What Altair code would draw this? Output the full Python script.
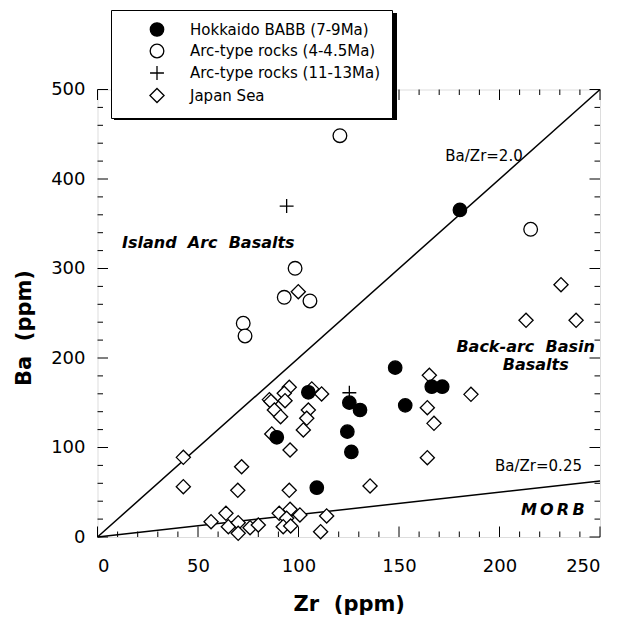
import altair as alt
import pandas as pd

# ---------------- data ----------------
series_names = ["Hokkaido BABB (7-9Ma)", "Arc-type rocks (4-4.5Ma)",
                "Arc-type rocks (11-13Ma)", "Japan Sea"]

babb_zr = [180.3, 148.1, 166.3, 171.5, 104.9, 89.2, 109.1, 125.3, 130.6, 153.1, 124.3, 126.3]
babb_ba = [365.4, 189.2, 167.9, 167.9, 161.7, 111.4, 55.1, 150.1, 141.9, 147.1, 117.7, 95.0]

arc45_zr = [120.6, 215.5, 98.3, 92.9, 105.7, 72.5, 73.4]
arc45_ba = [448.4, 343.8, 300.2, 267.8, 263.7, 238.8, 224.6]

arc1113_zr = [94.1, 125.3]
arc1113_ba = [369.8, 161.2]

japan_zr = [99.9, 230.6, 213.2, 238.1, 165.1, 185.8, 164.1, 167.4, 164.1, 135.6,
            95.4, 92.9, 85.5, 86.3, 93.3, 88.0, 91.1, 111.5, 106.6, 104.9,
            104.1, 102.4, 86.7, 95.8, 42.7, 71.7, 42.7, 69.8, 95.4, 63.9,
            56.5, 65.1, 70.0, 70.0, 75.9, 80.0, 90.4, 95.8, 94.1, 100.7,
            92.4, 96.1, 114.0, 111.0]
japan_ba = [274.1, 281.9, 242.1, 242.1, 180.7, 159.4, 144.5, 127.0, 88.6, 57.0,
            167.3, 160.6, 153.5, 151.5, 152.3, 141.9, 134.4, 159.8, 165.5, 141.9,
            132.6, 119.6, 115.1, 97.2, 89.0, 78.5, 56.2, 52.2, 52.2, 26.5,
            17.1, 11.5, 16.0, 4.1, 10.4, 13.4, 26.5, 30.9, 20.9, 24.6,
            11.5, 12.3, 23.5, 5.9]

ratio_values = [2.0, 0.25]
x_tick_values = list(range(0, 251, 10))
y_tick_values = list(range(0, 501, 20))
x_label_values = [0, 50, 100, 150, 200, 250]
y_label_values = [0, 100, 200, 300, 400, 500]

NB = "\u00a0"
ann_text = ["Ba/Zr=2.0", "Ba/Zr=0.25"]
ann_x = [192.3, 219.4]
ann_y = [426.0, 79.3]

region_text = ["Island" + NB + NB + "Arc" + NB + NB + "Basalts",
               "Back-arc" + NB + NB + "Basin", "Basalts",
               "M\u2009O\u2009R\u2009B"]
region_x = [12.2, 213.0, 218.0, 226.5]
region_y = [328.5, 212.0, 192.0, 30.0]
region_align = ["left", "center", "center", "center"]

# ---------------- tables ----------------
rows = []
for zr, ba in zip(japan_zr, japan_ba):
    rows.append({"Zr": zr, "Ba": ba, "series": series_names[3]})
for zr, ba in zip(arc45_zr, arc45_ba):
    rows.append({"Zr": zr, "Ba": ba, "series": series_names[1]})
for zr, ba in zip(babb_zr, babb_ba):
    rows.append({"Zr": zr, "Ba": ba, "series": series_names[0]})
for zr, ba in zip(arc1113_zr, arc1113_ba):
    rows.append({"Zr": zr, "Ba": ba, "series": series_names[2]})
pts = pd.DataFrame(rows)

line_rows = []
for r in ratio_values:
    for xv in (0, 250):
        line_rows.append({"Zr": xv, "Ba": r * xv, "ratio": str(r)})
lines_df = pd.DataFrame(line_rows)

W, H = 502.5, 447.5
FONT = "DejaVu Sans"

xs = alt.Scale(domain=[0, 250], nice=False, zero=False)
ys = alt.Scale(domain=[0, 500], nice=False, zero=False)

X = alt.X("Zr:Q", scale=xs,
          axis=alt.Axis(title="Zr" + NB + NB + "(ppm)", values=x_label_values, domain=False, ticks=False,
                        tickSize=0, grid=False, labelPadding=20, labelFontSize=18,
                        labelFont=FONT, labelColor="black", titleFont=FONT, titleFontSize=21,
                        titleFontWeight="bold", titlePadding=18, titleColor="black"))
Y = alt.Y("Ba:Q", scale=ys,
          axis=alt.Axis(title="Ba" + NB + NB + "(ppm)", values=y_label_values, domain=False, ticks=False,
                        tickSize=0, grid=False, labelPadding=12.5, labelFontSize=18,
                        labelFont=FONT, labelColor="black", titleFont=FONT, titleFontSize=21,
                        titleFontWeight="bold", titlePadding=16, titleColor="black",
                        titleY=238))

shape_range = ["circle", "circle", "M-1,0L1,0M0,-1L0,1", "diamond"]
fill_range = ["black", "white", "transparent", "white"]
stroke_range = ["black", "black", "black", "black"]
size_range = [180, 200, 330, 95]

leg = alt.Legend(title=None, orient="none", legendX=13.5, legendY=-79.5,
                 padding=12, symbolOffset=26, labelOffset=25, rowPadding=2.5,
                 labelFont=FONT, labelFontSize=15, labelColor="black", labelLimit=400,
                 symbolStrokeColor="black", symbolStrokeWidth=1.3,
                 fillColor="white", strokeColor="black")

points = alt.Chart(pts).mark_point(stroke="black", strokeWidth=1.3, opacity=1).encode(
    x=X, y=Y,
    shape=alt.Shape("series:N", scale=alt.Scale(domain=series_names, range=shape_range), legend=leg),
    fill=alt.Fill("series:N", scale=alt.Scale(domain=series_names, range=fill_range), legend=leg),
    stroke=alt.Stroke("series:N", scale=alt.Scale(domain=series_names, range=stroke_range), legend=leg),
    size=alt.Size("series:N", scale=alt.Scale(domain=series_names, range=size_range), legend=leg),
)

ratio_lines = alt.Chart(lines_df).mark_line(color="black", strokeWidth=1.5).encode(
    x=alt.X("Zr:Q", scale=xs), y=alt.Y("Ba:Q", scale=ys), detail="ratio:N")

ticks_x = pd.DataFrame({"v": x_tick_values})
ticks_y = pd.DataFrame({"v": y_tick_values})


def xticks(major, length, bottom=True):
    flt = "datum.v % 50 == 0" if major else "datum.v % 50 != 0"
    y0 = H if bottom else 0
    y1 = H - length if bottom else length
    return alt.Chart(ticks_x).transform_filter(flt).mark_rule(color="black", strokeWidth=1).encode(
        x=alt.X("v:Q", scale=xs), y=alt.value(y0), y2=alt.value(y1))


def yticks(major, length, left=True):
    flt = "datum.v % 100 == 0" if major else "datum.v % 100 != 0"
    x0 = 0 if left else W
    x1 = length if left else W - length
    return alt.Chart(ticks_y).transform_filter(flt).mark_rule(color="black", strokeWidth=1).encode(
        y=alt.Y("v:Q", scale=ys), x=alt.value(x0), x2=alt.value(x1))


tick_layers = [xticks(True, 10.5, True), xticks(False, 5.5, True),
               xticks(True, 10.5, False), xticks(False, 5.5, False),
               yticks(True, 10.5, True), yticks(False, 5.5, True),
               yticks(True, 10.5, False), yticks(False, 5.5, False)]

ann_df = pd.DataFrame({"t": ann_text, "Zr": ann_x, "Ba": ann_y})
ann = alt.Chart(ann_df).mark_text(font=FONT, fontSize=15, color="black").encode(
    x=alt.X("Zr:Q", scale=xs), y=alt.Y("Ba:Q", scale=ys), text="t:N")

reg_df = pd.DataFrame({"t": region_text, "Zr": region_x, "Ba": region_y, "a": region_align})
reg_left = alt.Chart(reg_df).transform_filter("datum.a == 'left'").mark_text(
    font=FONT, fontSize=16, fontWeight="bold", fontStyle="italic", color="black", align="left").encode(
    x=alt.X("Zr:Q", scale=xs), y=alt.Y("Ba:Q", scale=ys), text="t:N")
reg_center = alt.Chart(reg_df).transform_filter("datum.a == 'center'").mark_text(
    font=FONT, fontSize=16, fontWeight="bold", fontStyle="italic", color="black", align="center").encode(
    x=alt.X("Zr:Q", scale=xs), y=alt.Y("Ba:Q", scale=ys), text="t:N")

shadow = alt.Chart(pd.DataFrame({"a": [0]})).mark_rect(color="black", clip=False).encode(
    x=alt.value(16.5), x2=alt.value(299.5), y=alt.value(-76.5), y2=alt.value(30.5))

chart = alt.layer(ratio_lines, *tick_layers, ann, reg_left, reg_center, shadow, points).properties(
    width=W, height=H,
    padding={"left": 89.5, "top": 81.5, "right": 31, "bottom": 82},
    autosize=alt.AutoSizeParams(type="none"),
).configure_view(stroke="black", strokeWidth=1.5, fill="white").configure_legend(
    strokeWidth=1.5
).configure(background="white")

chart.save("out.html", embed_options={"renderer": "svg", "actions": False})
